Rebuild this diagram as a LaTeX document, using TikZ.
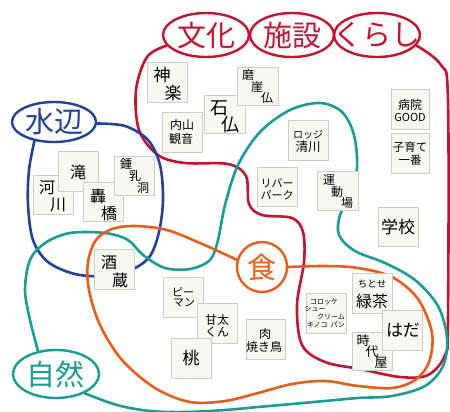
\documentclass[tikz,border=0pt]{standalone}
\usepackage{fontspec}
\newfontfamily\jp{Noto Sans CJK JP}
\usetikzlibrary{shapes.geometric}
\definecolor{cred}{RGB}{198,18,48}
\definecolor{cblue}{RGB}{35,65,155}
\definecolor{cteal}{RGB}{22,158,148}
\definecolor{corange}{RGB}{234,92,24}
\definecolor{boxfill}{RGB}{248,248,242}
\definecolor{boxline}{RGB}{205,205,200}
\newcommand\jpfs[1]{\fontsize{#1}{#1}\selectfont}
\newcommand\bx[5]{\node[box, minimum width=#4pt, minimum height=#5pt] (#1) at (#2,#3) {};}
\newcommand\tx[5]{\node (#1) at ([shift={(#3,#4)}]#2.north west) {#5};}
\begin{document}
\begin{tikzpicture}[x=1pt,y=-1pt,
  every node/.style={font=\jp, inner sep=0pt},
  box/.style={draw=boxline, fill=boxfill, line width=0.8pt, anchor=north west},
  region/.style={line width=2.6pt, line cap=round, line join=round},
  title/.style={ellipse, line width=2.4pt}]
\useasboundingbox (0,0) rectangle (450,412);

% title shapes
\node[title, draw=cred, minimum width=86pt, minimum height=44pt] (bunka) at (206,35) {};
\node[title, draw=cred, minimum width=84pt, minimum height=44pt] (shisetsu) at (292,35) {};
\node[title, draw=cred, minimum width=86pt, minimum height=44pt] (kurashi) at (377,35) {};
\node[title, draw=cblue, minimum width=84pt, minimum height=40pt] (mizube) at (54,122) {};
\node[title, draw=cteal, minimum width=86pt, minimum height=48pt] (shizen) at (56,374) {};
\node[circle, line width=2.4pt, draw=corange, minimum size=50pt] (shoku) at (262,267) {};
% title texts
\node[text=cred] (bunkat) at (bunka) {\jpfs{29}文化};
\node[text=cred] (shisetsut) at (shisetsu) {\jpfs{29}施設};
\node[text=cred] (kurashit) at (kurashi) {\jpfs{29}くらし};
\node[text=cblue] (mizubet) at (mizube) {\jpfs{29}水辺};
\node[text=cteal] (shizent) at (shizen) {\jpfs{29}自然};
\node[text=corange] (shokut) at (shoku) {\jpfs{29}食};

% region boundaries
\draw[region, cred] plot[smooth, tension=0.55] coordinates {(bunka.195) (147,57) (136,90) (139,130) (158,155) (185,163) (228,164) (246,176) (249,204) (262,215) (292,218) (303,232) (304,262) (297,305) (302,345) (325,362) (360,369) (400,377) (428,375) (445,355) (448,320) (448,100) (441,65) (kurashi.345)};
\draw[region, cblue] plot[smooth, tension=0.55] coordinates {(mizube.224) (29,170) (28,205) (33,240) (48,262) (75,274) (105,276) (133,269) (150,256) (159,232) (163,200) (160,165) (148,140) (125,126) (mizube.358)};
\draw[region, cteal] plot[smooth, tension=0.55] coordinates {(shizen.128) (30,320) (25,290) (30,260) (45,243) (70,233) (105,233) (128,240) (143,255) (165,268) (190,269) (210,260) (218,240) (225,205) (238,165) (260,132) (290,110) (320,103) (342,112) (354,135) (357,168) (350,195) (340,215) (339,235) (355,251) (385,263) (415,280) (438,306) (447,338) (443,366) (425,386) (392,396) (358,398) (325,401) (292,404) (258,407) (225,410) (185,412) (150,411) (117,405) (shizen.326)};
\draw[region, corange] plot[smooth, tension=0.55] coordinates {(shoku.0) (325,266) (358,268) (392,277) (418,299) (432,333) (429,362) (415,380) (392,388) (358,386) (325,381) (292,384) (258,393) (225,401) (190,402) (155,388) (122,360) (100,325) (89,290) (88,262) (96,240) (112,229) (135,226) (167,230) (200,243) (220,252) (shoku.164)};

% culture / facilities / living
\bx{kagura}{147}{62}{40}{40}
\tx{kagura1}{kagura}{15}{13}{\jpfs{17}神}
\tx{kagura2}{kagura}{26}{31}{\jpfs{17}楽}
\bx{uchiyama}{162}{112}{40}{40}
\tx{uchiyama1}{uchiyama}{20}{13}{\jpfs{12}内山}
\tx{uchiyama2}{uchiyama}{19}{27}{\jpfs{12}観音}
\bx{sekibutsu}{204}{95}{41}{38}
\tx{sekibutsu1}{sekibutsu}{15}{13}{\jpfs{18}石}
\tx{sekibutsu2}{sekibutsu}{26}{30}{\jpfs{18}仏}
\bx{magai}{237}{67}{41}{38}
\tx{magai1}{magai}{11}{8}{\jpfs{12}磨}
\tx{magai2}{magai}{20}{20}{\jpfs{12}崖}
\tx{magai3}{magai}{30}{31}{\jpfs{12}仏}
\bx{lodge}{288}{120}{40}{40}
\tx{lodge1}{lodge}{20}{15}{\jpfs{10}ロッジ}
\tx{lodge2}{lodge}{20}{27}{\jpfs{12.5}清川}
\bx{river}{257}{167}{40}{39}
\tx{river1}{river}{20}{16}{\jpfs{11}リバー}
\tx{river2}{river}{20}{28}{\jpfs{11}パーク}
\bx{undo}{317}{171}{41}{39}
\tx{undo1}{undo}{12}{9}{\jpfs{12}運}
\tx{undo2}{undo}{20}{21}{\jpfs{12}動}
\tx{undo3}{undo}{30}{32}{\jpfs{12}場}
\bx{gakko}{378}{207}{40}{39}
\tx{gakko1}{gakko}{20}{20}{\jpfs{17}学校}
\bx{byoin}{391}{89}{38}{40}
\tx{byoin1}{byoin}{19}{16}{\jpfs{12}病院}
\tx{byoin2}{byoin}{19}{28}{\jpfs{11}GOOD}
\bx{kosodate}{391}{133}{38}{40}
\tx{kosodate1}{kosodate}{19}{14}{\jpfs{11.5}子育て}
\tx{kosodate2}{kosodate}{19}{27}{\jpfs{11.5}一番}

% waterside
\bx{kasen}{33}{175}{40}{39}
\tx{kasen1}{kasen}{14}{13}{\jpfs{16}河}
\tx{kasen2}{kasen}{25}{30}{\jpfs{16}川}
\bx{taki}{58}{151}{40}{40}
\tx{taki1}{taki}{20}{21}{\jpfs{16}滝}
\bx{todoroki}{83}{182}{40}{39}
\tx{todoroki1}{todoroki}{15}{14}{\jpfs{16}轟}
\tx{todoroki2}{todoroki}{26}{31}{\jpfs{16}橋}
\bx{shonyu}{114}{156}{40}{39}
\tx{shonyu1}{shonyu}{12}{8}{\jpfs{12}鍾}
\tx{shonyu2}{shonyu}{21}{20}{\jpfs{12}乳}
\tx{shonyu3}{shonyu}{29}{32}{\jpfs{12}洞}
\bx{sakagura}{94}{249}{40}{40}
\tx{sakagura1}{sakagura}{15}{14}{\jpfs{16}酒}
\tx{sakagura2}{sakagura}{26}{31}{\jpfs{16}蔵}

% food
\bx{piman}{163}{277}{40}{40}
\tx{piman1}{piman}{20}{15}{\jpfs{11}ピー}
\tx{piman2}{piman}{21}{26}{\jpfs{11}マン}
\bx{amata}{197}{303}{40}{40}
\tx{amata1}{amata}{20}{17}{\jpfs{12}甘太}
\tx{amata2}{amata}{20}{29}{\jpfs{12}くん}
\bx{momo}{171}{338}{40}{40}
\tx{momo1}{momo}{20}{20}{\jpfs{17}桃}
\bx{niku}{246}{319}{39}{40}
\tx{niku1}{niku}{19}{15}{\jpfs{12}肉}
\tx{niku2}{niku}{18}{28}{\jpfs{12}焼き鳥}
\bx{korokke}{306}{293}{40}{40}
\tx{korokke1}{korokke}{18}{9}{\jpfs{7}コロッケ}
\tx{korokke2}{korokke}{9}{16}{\jpfs{7}シュー}
\tx{korokke3}{korokke}{25}{24}{\jpfs{7}クリーム}
\tx{korokke4}{korokke}{20}{32}{\jpfs{7}キノコ\hspace{3pt}パン}
\bx{ryokucha}{352}{273}{40}{40}
\tx{ryokucha1}{ryokucha}{20}{11}{\jpfs{9.5}ちとせ}
\tx{ryokucha2}{ryokucha}{20}{28}{\jpfs{16}緑茶}
\bx{jidaiya}{352}{332}{40}{38}
\tx{jidaiya1}{jidaiya}{11}{9}{\jpfs{13}時}
\tx{jidaiya2}{jidaiya}{20}{20}{\jpfs{13}代}
\tx{jidaiya3}{jidaiya}{29}{31}{\jpfs{13}屋}
\bx{hada}{382}{310}{40}{40}
\tx{hada1}{hada}{21}{20}{\jpfs{17}はだ}
\end{tikzpicture}
\end{document}
